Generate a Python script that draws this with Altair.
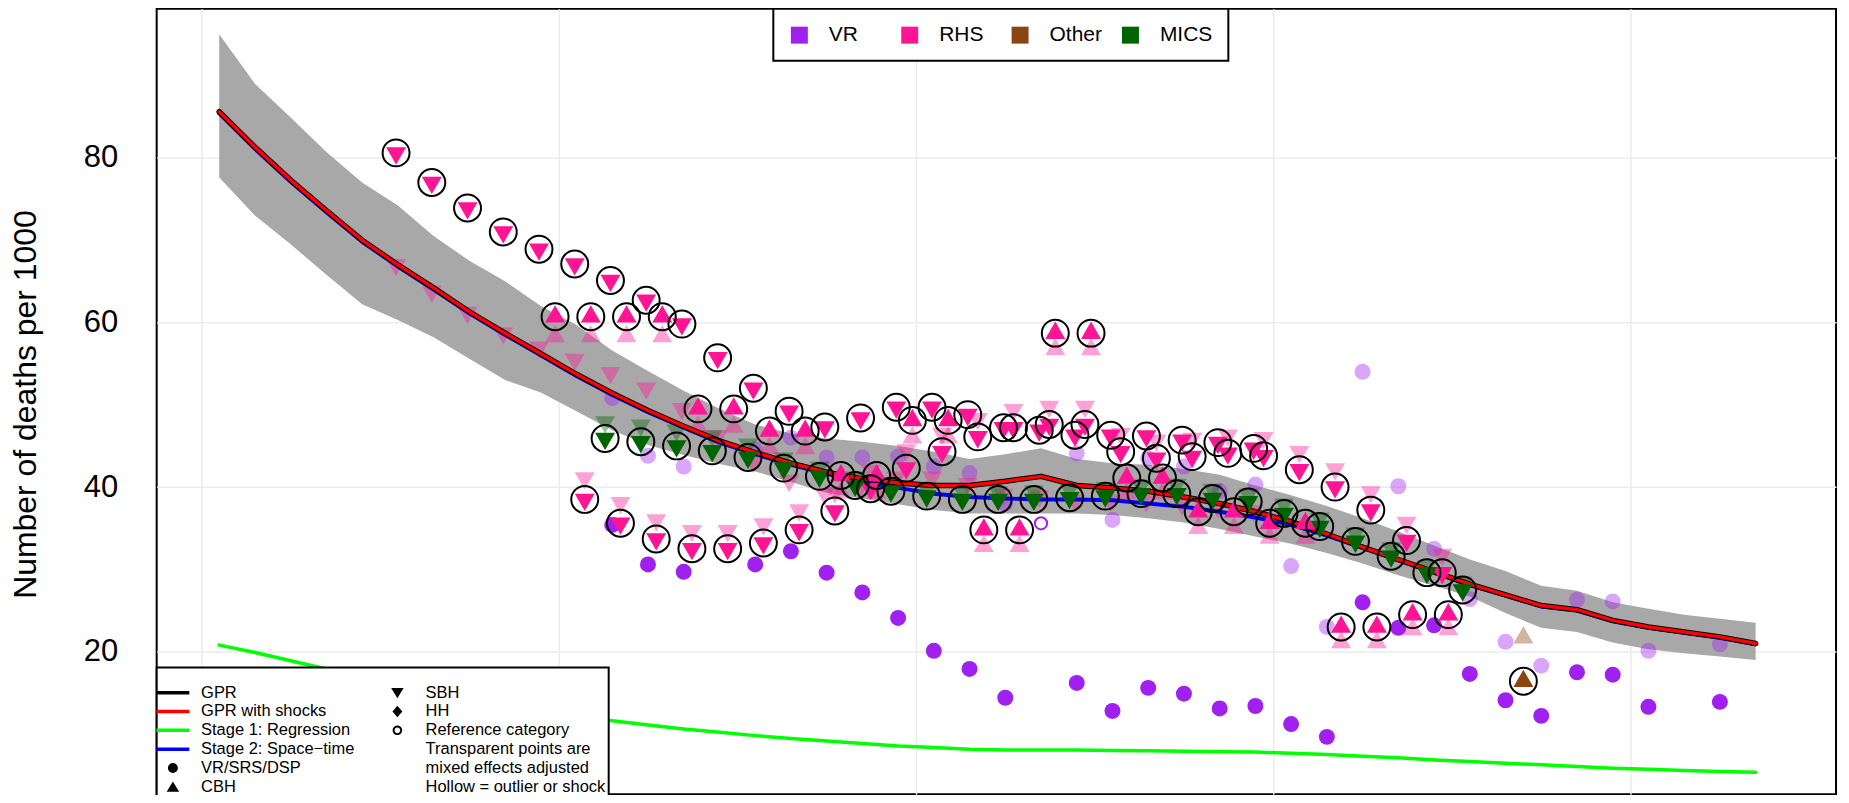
import altair as alt
import pandas as pd

# ---------------- estimates (lines / band) ----------------
line_years = [1970.5, 1971.5, 1972.5, 1973.5, 1974.5, 1975.5, 1976.5, 1977.5, 1978.5, 1979.5,
              1980.5, 1981.5, 1982.5, 1983.5, 1984.5, 1985.5, 1986.5, 1987.5, 1988.5, 1989.5,
              1990.5, 1991.5, 1992.5, 1993.5, 1994.5, 1995.5, 1996.5, 1997.5, 1998.5, 1999.5,
              2000.5, 2001.5, 2002.5, 2003.5, 2004.5, 2005.5, 2006.5, 2007.5, 2008.5, 2009.5,
              2010.5, 2011.5, 2012.5, 2013.5]
gpr = [85.6, 81.3, 77.3, 73.6, 70.0, 67.0, 64.2, 61.3, 58.7, 56.2,
       53.7, 51.4, 49.3, 47.4, 45.6, 44.2, 42.9, 41.8, 41.0, 40.5,
       40.2, 40.2, 40.7, 41.3, 40.2, 39.9, 39.5, 38.8, 38.0, 37.0,
       35.8, 34.3, 32.7, 31.2, 29.7, 28.2, 26.9, 25.6, 25.1, 23.8,
       23.0, 22.4, 21.8, 21.0]
gpr_shocks = [85.6, 81.3, 77.3, 73.6, 70.0, 67.0, 64.2, 61.3, 58.7, 56.2,
              53.7, 51.4, 49.3, 47.4, 45.6, 44.2, 42.9, 41.8, 41.0, 40.5,
              40.2, 40.2, 40.7, 41.3, 40.2, 39.9, 39.5, 38.8, 38.0, 37.0,
              35.8, 34.3, 32.7, 31.2, 29.7, 28.2, 26.9, 25.6, 25.1, 23.8,
              23.0, 22.4, 21.8, 21.0]
stage2 = [85.4, 81.1, 77.1, 73.4, 69.8, 66.8, 64.0, 61.1, 58.5, 56.0,
          53.5, 51.2, 49.1, 47.2, 45.4, 44.0, 42.7, 41.6, 40.6, 39.9,
          39.2, 38.8, 38.6, 38.5, 38.5, 38.4, 38.0, 37.6, 37.0, 36.3,
          35.4, 34.1, 32.6, 31.1, 29.6, 28.1, 26.8, 25.5, 25.0, 23.7,
          22.9, 22.3, 21.7, 20.9]
stage1 = [20.8, 19.9, 18.9, 17.9, 16.9, 15.9, 15.0, 14.2, 13.5, 12.8,
          12.2, 11.6, 11.1, 10.6, 10.2, 9.8, 9.45, 9.15, 8.85, 8.55,
          8.35, 8.15, 8.05, 8.05, 8.05, 8.0, 7.95, 7.9, 7.85, 7.8,
          7.65, 7.5, 7.3, 7.1, 6.85, 6.65, 6.45, 6.25, 6.05, 5.85,
          5.7, 5.55, 5.45, 5.35]
band_lo = [77.6, 73.0, 69.5, 65.8, 62.2, 60.3, 58.2, 55.6, 53.0, 51.5,
           49.2, 46.9, 45.1, 43.9, 42.8, 41.9, 40.6, 39.3, 38.6, 37.9,
           37.2, 36.8, 36.8, 36.8, 36.8, 36.6, 36.2, 35.7, 34.9, 34.0,
           33.1, 32.0, 30.7, 29.3, 28.0, 26.7, 24.7, 22.9, 22.4, 21.1,
           20.3, 19.8, 19.4, 19.0]
band_hi = [95.0, 89.0, 84.9, 80.7, 77.0, 74.2, 70.5, 67.5, 65.0, 62.0,
           59.7, 56.6, 54.1, 51.7, 49.5, 47.6, 46.5, 45.9, 45.5, 45.0,
           44.3, 43.4, 44.0, 44.7, 43.4, 42.9, 42.7, 42.2, 41.5, 40.2,
           39.0, 37.7, 36.2, 34.6, 32.9, 31.2, 29.8, 28.0, 27.4, 26.0,
           25.2, 24.5, 24.0, 23.5]

# ---------------- data points ----------------
rhs_sbh1_years = [1975.45, 1976.45, 1977.45, 1978.45, 1979.45, 1980.45, 1981.45, 1982.45, 1983.45,
                  1984.45, 1985.45, 1986.45, 1987.45, 1988.45, 1989.45, 1990.45, 1991.45, 1992.45,
                  1993.45, 1994.45, 1995.45, 1996.45, 1997.45, 1998.45, 1999.45]
rhs_sbh1_raw = [80.6, 77.0, 73.9, 71.0, 68.9, 67.1, 65.1, 62.7, 59.8, 55.7, 52.0, 49.2, 47.3,
                48.4, 49.7, 49.7, 48.8, 47.2, 46.9, 46.3, 46.3, 46.2, 45.7, 45.4, 44.7]
rhs_sbh1_adj = [67.0, 63.8, 61.2, 58.7, 57.0, 55.5, 53.9, 52.0, 49.5, 46.2, 43.1, 40.8, 39.2,
                40.1, 41.2, 41.2, 40.4, 39.1, 38.9, 38.4, 38.4, 38.3, 37.9, 37.6, 37.1]

rhs_sbh2_years = [1980.73, 1981.73, 1982.73, 1983.73, 1984.73, 1985.73, 1986.73, 1987.73, 1988.73,
                  1989.73, 1990.73, 1991.73, 1992.73, 1993.73, 1994.73, 1995.73, 1996.73, 1997.73,
                  1998.73, 1999.73, 2000.73, 2001.73, 2002.73, 2003.73, 2004.73]
rhs_sbh2_raw = [38.5, 35.6, 33.7, 32.5, 32.5, 33.2, 34.8, 37.1, 39.8, 42.3, 44.3, 46.1, 47.2,
                47.6, 47.6, 44.3, 43.5, 43.7, 44.1, 43.8, 42.1, 40.0, 37.2, 33.5, 29.6]
rhs_sbh2_adj = [41.1, 38.1, 36.0, 34.7, 34.7, 35.5, 37.2, 39.4, 42.0, 44.5, 46.5, 48.3, 49.4,
                49.8, 49.8, 46.5, 45.7, 45.9, 46.3, 46.0, 44.3, 42.2, 39.4, 35.7, 31.8]

rhs_cbh_years = [1979.9, 1980.9, 1981.9, 1982.9, 1983.9, 1984.9, 1985.9, 1986.9, 1987.9, 1988.9,
                 1989.9, 1990.9, 1991.9, 1992.9, 1993.9, 1994.9, 1995.9, 1996.9, 1997.9, 1998.9,
                 1999.9, 2000.9, 2001.9, 2002.9, 2003.9, 2004.9]
rhs_cbh_raw = [60.7, 60.7, 60.7, 60.7, 49.5, 49.5, 46.8, 46.8, 41.4, 41.4, 48.1, 48.1, 34.8,
               34.8, 58.7, 58.7, 41.1, 41.1, 37.0, 37.0, 35.6, 35.6, 23.0, 23.0, 24.5, 24.5]
rhs_cbh_adj = [58.3, 58.3, 58.3, 58.3, 47.3, 47.3, 44.7, 44.7, 39.3, 39.3, 46.0, 46.0, 32.8,
               32.8, 56.7, 56.7, 39.2, 39.2, 35.0, 35.0, 33.8, 33.8, 21.1, 21.1, 22.7, 22.7]

mics_years = [1981.3, 1982.3, 1983.3, 1984.3, 1985.3, 1986.3, 1987.3, 1988.3, 1989.3, 1990.3,
              1991.3, 1992.3, 1993.3, 1994.3, 1995.3, 1996.3, 1997.3, 1998.3, 1999.3, 2000.3,
              2001.3, 2002.3, 2003.3, 2004.3, 2005.3]
mics_raw = [45.9, 45.5, 45.0, 44.4, 43.6, 42.3, 41.3, 40.2, 39.5, 38.9, 38.5, 38.5, 38.5,
            38.7, 38.9, 39.2, 39.2, 38.6, 38.2, 36.8, 35.2, 33.4, 31.6, 29.6, 27.5]
mics_adj = [47.9, 47.5, 46.9, 46.2, 45.2, 43.5, 42.4, 41.2, 40.5, 39.9, 39.5, 39.4, 39.5,
            39.7, 39.9, 40.2, 40.3, 39.7, 39.1, 37.9, 36.2, 34.4, 32.6, 30.4, 28.4]

vr_years = [1981.5, 1982.5, 1983.5, 1985.5, 1986.5, 1987.5, 1988.5, 1989.5, 1990.5, 1991.5,
            1992.5, 1994.5, 1995.5, 1996.5, 1997.5, 1998.5, 1999.5, 2000.5, 2001.5, 2002.5,
            2003.5, 2004.5, 2005.5, 2006.5, 2007.5, 2008.5, 2009.5, 2010.5, 2012.5]
vr_raw = [35.4, 30.6, 29.7, 30.6, 32.2, 29.6, 27.2, 24.1, 20.1, 17.9, 14.4, 16.2, 12.8, 15.6,
          14.9, 13.1, 13.4, 11.2, 9.65, 26.0, 22.9, 23.2, 17.3, 14.1, 12.2, 17.5, 17.2, 13.3, 13.9]
vr_adj = [50.8, 43.8, 42.5, 44.6, 46.0, 43.6, 43.6, 43.7, 42.5, 41.7, 38.0, 44.1, 36.0, 43.5,
          42.5, 39.5, 40.3, 30.4, 23.0, 54.0, 40.1, 32.5, 26.4, 21.2, 18.3, 26.3, 26.1, 20.1, 20.9]

vr_hollow_years = [1993.5]
vr_hollow_vals = [35.6]

other_years = [2007.0]
other_raw = [16.4]
other_adj = [21.7]

grid_years = [1970, 1980, 1990, 2000, 2010]
y_ticks = [20, 40, 60, 80]

sources = ["VR", "RHS", "Other", "MICS"]
source_colors = ["#A020F0", "#FF1493", "#8B4513", "#006400"]

legend_items = ["GPR", "GPR with shocks", "Stage 1: Regression", "Stage 2: Space\u2212time",
                "VR/SRS/DSP", "CBH", "SBH", "HH", "Reference category",
                "Transparent points are", "mixed effects adjusted", "Hollow = outlier or shock"]

# ---------------- tables ----------------
rows = []
def add(years, values, source, method, kind):
    for yr, v in zip(years, values):
        rows.append({"year": yr, "value": v, "source": source, "method": method, "kind": kind})

add(rhs_sbh1_years, rhs_sbh1_raw, "RHS", "SBH", "raw")
add(rhs_sbh1_years, rhs_sbh1_adj, "RHS", "SBH", "adj")
add(rhs_sbh2_years, rhs_sbh2_raw, "RHS", "SBH", "raw")
add(rhs_sbh2_years, rhs_sbh2_adj, "RHS", "SBH", "adj")
add(rhs_cbh_years, rhs_cbh_raw, "RHS", "CBH", "raw")
add(rhs_cbh_years, rhs_cbh_adj, "RHS", "CBH", "adj")
add(mics_years, mics_raw, "MICS", "SBH", "raw")
add(mics_years, mics_adj, "MICS", "SBH", "adj")
add(vr_years, vr_raw, "VR", "VR", "raw")
add(vr_years, vr_adj, "VR", "VR", "adj")
add(other_years, other_raw, "Other", "CBH", "raw")
add(other_years, other_adj, "Other", "CBH", "adj")
pts = pd.DataFrame(rows)

hollow = pd.DataFrame({"year": vr_hollow_years, "value": vr_hollow_vals})
band_df = pd.DataFrame({"year": line_years, "lo": band_lo, "hi": band_hi})

def line_df(vals):
    return pd.DataFrame({"year": line_years, "value": vals})

# ---------------- scales / axes ----------------
FONT = "Liberation Sans"
xs = alt.Scale(domain=[1968.75, 2015.75], nice=False, zero=False)
ys = alt.Scale(domain=[2.69, 98.1], nice=False, zero=False)
x_axis = alt.Axis(values=grid_years, labels=False, ticks=False, domain=False, grid=True,
                  gridColor="#EBEBEB", gridWidth=1.5, title=None)
y_axis = alt.Axis(values=y_ticks, grid=True, gridColor="#EBEBEB", gridWidth=1.5,
                  ticks=False, tickSize=0, domain=False,
                  labelFontSize=31, labelPadding=39, labelColor="black", labelFont=FONT,
                  title="Number of deaths per 1000", titleFontSize=32, titleFontWeight="normal",
                  titleColor="black", titleFont=FONT, titleAngle=270, titleX=-121, titleY=396,
                  titleAlign="center", titleBaseline="alphabetic")
X = alt.X("year:Q", scale=xs, axis=x_axis)
Y = alt.Y("value:Q", scale=ys, axis=y_axis)
color_scale = alt.Scale(domain=sources, range=source_colors)

top_legend = alt.Legend(title=None, orient="none", legendX=618, legendY=0, direction="horizontal",
                        columns=4, gridAlign="all", symbolType="square", symbolSize=289,
                        symbolStrokeWidth=0, symbolOpacity=1, labelFontSize=21, labelFont=FONT,
                        labelColor="black", labelOffset=19, columnPadding=17.6, padding=15.6,
                        strokeColor="black", fillColor="white")
COLOR = alt.Color("source:N", scale=color_scale, legend=top_legend)

TRI_DOWN = "M-1,-0.577L1,-0.577L0,1.155Z"
TRI_UP = "M0,-1.155L1,0.577L-1,0.577Z"

# ---------------- layers ----------------
band = alt.Chart(band_df).mark_area(color="#A8A8A8", opacity=1).encode(
    x=X, y=alt.Y("lo:Q", scale=ys, axis=y_axis), y2="hi:Q")

def point_layer(df, shape, size, opacity):
    return alt.Chart(df).mark_point(shape=shape, filled=True, size=size, opacity=opacity,
                                    strokeWidth=0).encode(x=X, y=Y, color=COLOR)

adj = pts[pts.kind == "adj"]
raw = pts[pts.kind == "raw"]
adj_vr = point_layer(adj[adj.method == "VR"], "circle", 256, 0.4)
adj_sbh = point_layer(adj[adj.method == "SBH"], TRI_DOWN, 400, 0.4)
adj_cbh = point_layer(adj[adj.method == "CBH"], TRI_UP, 400, 0.4)

def line_layer(vals, color, width):
    return alt.Chart(line_df(vals)).mark_line(color=color, strokeWidth=width, strokeCap="round",
                                              strokeJoin="round").encode(x=X, y=Y)

l_stage1 = line_layer(stage1, "#00FF00", 3.5)
l_stage2 = line_layer(stage2, "#0000FF", 4)
l_gpr = line_layer(gpr, "#000000", 5.5)
l_shock = line_layer(gpr_shocks, "#FF0000", 3.5)

raw_vr = point_layer(raw[raw.method == "VR"], "circle", 256, 1)
raw_sbh = point_layer(raw[raw.method == "SBH"], TRI_DOWN, 400, 1)
raw_cbh = point_layer(raw[raw.method == "CBH"], TRI_UP, 400, 1)

rings = alt.Chart(raw[raw.method != "VR"]).mark_point(
    shape="circle", filled=False, color="black", strokeWidth=2, size=729, opacity=1
).encode(x=X, y=Y)

hollow_vr = alt.Chart(hollow).mark_point(
    shape="circle", filled=False, color="#A020F0", strokeWidth=2, size=150, opacity=1
).encode(x=X, y=Y)

# ---------------- bottom-left key ----------------
LINE = "M-2.06,-0.22L2.06,-0.22L2.06,0.22L-2.06,0.22Z"
DOT = "M0.62,0A0.62,0.62,0,1,1,-0.62,0A0.62,0.62,0,1,1,0.62,0Z"
L_UP = "M0,-0.68L0.78,0.6L-0.78,0.6Z"
L_DOWN = "M-0.78,-0.6L0.78,-0.6L0,0.68Z"
DIAMOND = "M0,-0.72L0.62,0L0,0.72L-0.62,0Z"
RING = ("M0.6,0A0.6,0.6,0,1,1,-0.6,0A0.6,0.6,0,1,1,0.6,0Z"
        "M0.36,0A0.36,0.36,0,1,0,-0.36,0A0.36,0.36,0,1,0,0.36,0Z")
BLANK = "M0,0L0.01,0Z"
legend_shapes = [LINE, LINE, LINE, LINE, DOT, L_UP, L_DOWN, DIAMOND, RING, BLANK, BLANK, BLANK]
legend_fills = ["#000000", "#FF0000", "#00FF00", "#0000FF", "#000000", "#000000", "#000000",
                "#000000", "#000000", "transparent", "transparent", "transparent"]

bottom_legend = alt.Legend(title=" ", titleFontSize=6, titlePadding=8, orient="none",
                           legendX=0, legendY=660, columns=2, gridAlign="each",
                           symbolSize=256, symbolStrokeWidth=0, symbolOpacity=1, symbolOffset=5,
                           labelFontSize=16.5, labelFont=FONT, labelColor="black", labelOffset=20,
                           labelLimit=400, rowPadding=1.9, columnPadding=29, padding=3,
                           strokeColor="black", fillColor="white")
bot_leg = alt.Chart(pd.DataFrame({"item": legend_items})).transform_filter("false").mark_point(
    filled=True, opacity=1, size=256, strokeWidth=0).encode(
    fill=alt.Fill("item:N", scale=alt.Scale(domain=legend_items, range=legend_fills),
                  legend=bottom_legend),
    shape=alt.Shape("item:N", scale=alt.Scale(domain=legend_items, range=legend_shapes),
                    legend=bottom_legend))

base = alt.layer(
    band, adj_vr, adj_sbh, adj_cbh,
    l_stage1, l_stage2, l_gpr, l_shock,
    raw_vr, raw_sbh, raw_cbh, rings, hollow_vr,
    bot_leg
).properties(
    width=1683, height=787,
    autosize=alt.AutoSizeParams(type="none"),
    padding={"left": 149, "top": 0, "right": 5, "bottom": 0}
)

chart = base.configure(font=FONT).configure_view(stroke="black", strokeWidth=2)
try:
    thick = chart.configure_legend(strokeWidth=2)
    thick.to_dict()
    chart = thick
except Exception:
    pass

chart.save("out.html", embed_options={"renderer": "svg", "actions": False})
